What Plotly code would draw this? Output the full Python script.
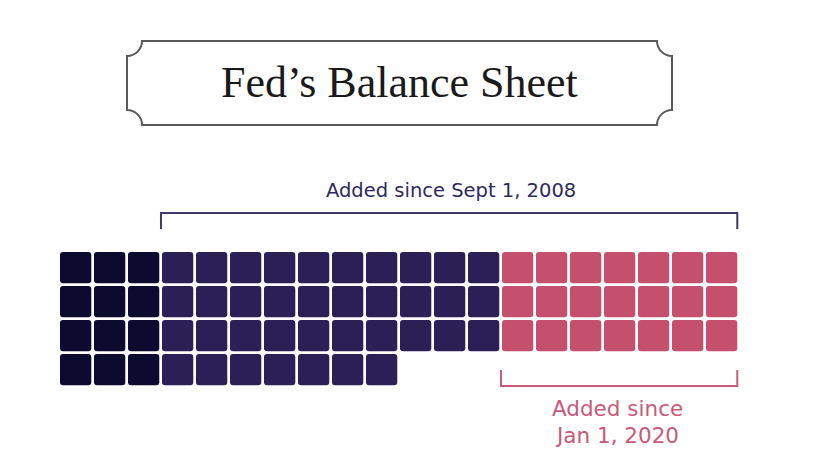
import plotly.graph_objects as go

# ---- data ----
categories = ["Before Sept 1, 2008", "Added Sept 1, 2008 - Jan 1, 2020", "Added since Jan 1, 2020"]
square_counts = [12, 37, 21]
block_widths = [3, 10, 7]
colors = ["#0c0a2f", "#2a2056", "#c4506d"]
title_text = "Fed’s Balance Sheet"
label_2008 = "Added since Sept 1, 2008"
label_2020 = ["Added since", "Jan 1, 2020"]

# ---- geometry (screen-pixel layout helpers) ----
PAGE_OFF = 8               # browser body margin
W, H = 832 - 2 * PAGE_OFF, 476 - 2 * PAGE_OFF
PITCH = 34.0               # px per cell
ORIGIN_X, ORIGIN_Y = 60.0, 252.0   # screen px of first square
SIZE = 0.92                # square size in cell units
RAD = 3.0 / PITCH          # corner radius


def dx(px):
    return (px - ORIGIN_X) / PITCH


def dy(py):
    return (py - ORIGIN_Y) / PITCH


def rounded_rect(x0, y0, x1, y1, r):
    return (f"M {x0+r},{y0} L {x1-r},{y0} Q {x1},{y0} {x1},{y0+r} "
            f"L {x1},{y1-r} Q {x1},{y1} {x1-r},{y1} L {x0+r},{y1} "
            f"Q {x0},{y1} {x0},{y1-r} L {x0},{y0+r} Q {x0},{y0} {x0+r},{y0} Z")


fig = go.Figure()
shapes = []
col_start = 0
for cat, n, w, c in zip(categories, square_counts, block_widths, colors):
    xs, ys = [], []
    for i in range(n):
        col = col_start + i % w
        row = i // w
        shapes.append(dict(type="path", xref="x", yref="y",
                           path=rounded_rect(col, row, col + SIZE, row + SIZE, RAD),
                           fillcolor=c, line=dict(width=0), layer="below"))
        xs.append(col + SIZE / 2)
        ys.append(row + SIZE / 2)
    fig.add_trace(go.Scatter(x=xs, y=ys, mode="markers", name=cat,
                             marker=dict(size=20, color=c, opacity=0),
                             hovertemplate=cat + "<extra></extra>", showlegend=False))
    col_start += w

# brackets
top_x0 = block_widths[0] - 0.03
top_x1 = sum(block_widths) - 1 + SIZE
bracket_navy = "#3d3a66"
shapes.append(dict(type="path", xref="x", yref="y",
                   path=f"M {top_x0},{dy(229)} L {top_x0},{dy(213)} L {top_x1},{dy(213)} L {top_x1},{dy(229)}",
                   line=dict(color=bracket_navy, width=2)))
pink_x0 = block_widths[0] + block_widths[1] - 0.03
bracket_pink = "#c95a78"
shapes.append(dict(type="path", xref="x", yref="y",
                   path=f"M {pink_x0},{dy(370)} L {pink_x0},{dy(386)} L {top_x1},{dy(386)} L {top_x1},{dy(370)}",
                   line=dict(color=bracket_pink, width=2)))

# title box with concave corners
bx0, by0, bx1, by1, br = 127, 41, 672, 125, 15
k = 0.5523
pts = [
    ("M", [(bx0 + br, by0)]),
    ("L", [(bx1 - br, by0)]),
    ("C", [(bx1 - br, by0 + k * br), (bx1 - k * br, by0 + br), (bx1, by0 + br)]),
    ("L", [(bx1, by1 - br)]),
    ("C", [(bx1 - k * br, by1 - br), (bx1 - br, by1 - k * br), (bx1 - br, by1)]),
    ("L", [(bx0 + br, by1)]),
    ("C", [(bx0 + br, by1 - k * br), (bx0 + k * br, by1 - br), (bx0, by1 - br)]),
    ("L", [(bx0, by0 + br)]),
    ("C", [(bx0 + k * br, by0 + br), (bx0 + br, by0 + k * br), (bx0 + br, by0)]),
]
path = " ".join(cmd + " " + " ".join(f"{dx(px)},{dy(py)}" for px, py in p) for cmd, p in pts) + " Z"
shapes.append(dict(type="path", xref="x", yref="y", path=path,
                   line=dict(color="#5a5a5a", width=2)))

annotations = [
    dict(x=dx(399), y=dy(82), xref="x", yref="y", text=title_text, showarrow=False,
         font=dict(family="Liberation Serif", size=44, color="#1a1a1a"),
         xanchor="center", yanchor="middle"),
    dict(x=dx(451), y=dy(190), xref="x", yref="y", text=label_2008, showarrow=False,
         font=dict(family="DejaVu Sans", size=19.5, color="#2e2a5e"),
         xanchor="center", yanchor="middle"),
    dict(x=dx(617), y=dy(408), xref="x", yref="y", text=label_2020[0], showarrow=False,
         font=dict(family="DejaVu Sans", size=21.5, color="#c95a78"),
         xanchor="center", yanchor="middle"),
    dict(x=dx(617), y=dy(435), xref="x", yref="y", text=label_2020[1], showarrow=False,
         font=dict(family="DejaVu Sans", size=21.5, color="#c95a78"),
         xanchor="center", yanchor="middle"),
]

fig.update_layout(
    width=W, height=H,
    margin=dict(l=0, r=0, t=0, b=0),
    paper_bgcolor="white", plot_bgcolor="white",
    shapes=shapes, annotations=annotations,
    xaxis=dict(range=[dx(PAGE_OFF), dx(PAGE_OFF + W)], visible=False, fixedrange=True),
    yaxis=dict(range=[dy(PAGE_OFF + H), dy(PAGE_OFF)], visible=False, fixedrange=True),
    showlegend=False,
)

fig.write_html("out.html", config={"displayModeBar": False})
